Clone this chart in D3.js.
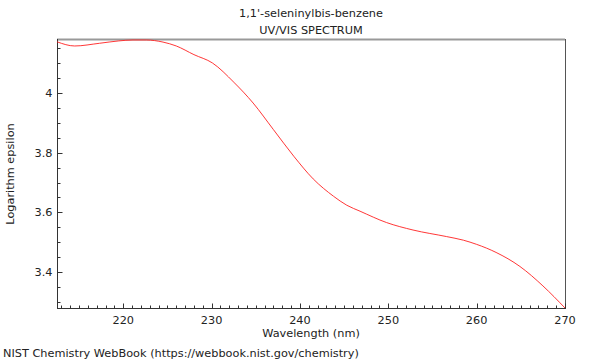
<!DOCTYPE html>
<html><head><meta charset="utf-8">
<script src="https://cdn.jsdelivr.net/npm/d3@7"></script>
<style>body{margin:0;background:#fff;} svg{display:block;} text{font-family:"DejaVu Sans",sans-serif;}</style>
</head><body><svg id="c" width="600" height="360"></svg>
<script>
const wavelength = [212.5,214.5,217.3,219.5,221.1,222.6,224.5,226,228,230.1,232.5,234.7,237.0,239.3,241.5,243.8,245.3,246.8,249.8,252.8,256.6,258.5,260,262.2,264.9,267.5,270];
const logEps =     [4.171,4.157,4.166,4.174,4.177,4.177,4.170,4.157,4.128,4.100,4.036,3.966,3.877,3.788,3.712,3.654,3.624,3.604,3.566,3.541,3.519,3.507,3.493,3.466,3.419,3.354,3.28];
const xTicks = [220,230,240,250,260,270];
const yTicks = [3.4,3.6,3.8,4];
const titleLines = ["1,1'-seleninylbis-benzene","UV/VIS SPECTRUM"];

const svg = d3.select("#c");
const L=57,R=565,T=40,B=308;
const FS=11.3;
const x = d3.scaleLinear().domain([212.5,270]).range([L,R]);
const y = d3.scaleLinear().domain([3.28,4.177]).range([B,T]);

// frame
svg.append("line").attr("x1",L).attr("x2",R).attr("y1",T-0.5).attr("y2",T-0.5).attr("stroke","#999").attr("stroke-width",2);
svg.append("line").attr("x1",R+0.5).attr("x2",R+0.5).attr("y1",T-1).attr("y2",B).attr("stroke","#555").attr("stroke-width",1);

// x axis
const gx = svg.append("g").attr("transform",`translate(0,${B+0.5})`);
gx.append("line").attr("x1",L).attr("x2",R+1).attr("stroke","#333");
const xMinor = d3.range(213,271,1);
gx.selectAll(".mx").data(xMinor).join("line").attr("x1",d=>Math.round(x(d))+0.5).attr("x2",d=>Math.round(x(d))+0.5).attr("y1",0).attr("y2",d=>xTicks.includes(d)?-5:-3).attr("stroke","#333");
gx.selectAll(".tx").data(xTicks).join("text").attr("x",d=>x(d)).attr("y",15).attr("text-anchor","middle").attr("font-size",FS).attr("fill","#222").text(d=>d);

// y axis
const gy = svg.append("g").attr("transform",`translate(${L+0.5},0)`);
gy.append("line").attr("y1",T-1).attr("y2",B+1).attr("stroke","#333");
const yMinor = d3.range(0,18).map(i=>+(3.30+i*0.05).toFixed(2));
gy.selectAll(".my").data(yMinor).join("line").attr("y1",d=>Math.round(y(d))+0.5).attr("y2",d=>Math.round(y(d))+0.5).attr("x1",0).attr("x2",d=>yTicks.some(t=>Math.abs(t-d)<1e-6)?5:3).attr("stroke","#333");
gy.selectAll(".ty").data(yTicks).join("text").attr("x",-5).attr("y",d=>y(d)+4).attr("text-anchor","end").attr("font-size",FS).attr("fill","#222").text(d=>d);

// curve
const line = d3.line().x((d,i)=>x(wavelength[i])).y(d=>y(d)).curve(d3.curveMonotoneX);
svg.append("path").datum(logEps).attr("d",line).attr("fill","none").attr("stroke","#ff2020").attr("stroke-width",0.9);

// titles
svg.selectAll(".tt").data(titleLines).join("text").attr("x",311).attr("y",(d,i)=>17+i*17).attr("text-anchor","middle").attr("font-size",FS).attr("fill","#222").text(d=>d);
svg.append("text").attr("x",311).attr("y",337).attr("text-anchor","middle").attr("font-size",FS).attr("fill","#222").text("Wavelength (nm)");
svg.append("text").attr("transform","translate(14,174) rotate(-90)").attr("text-anchor","middle").attr("font-size",FS).attr("fill","#222").text("Logarithm epsilon");
svg.append("text").attr("x",3).attr("y",357).attr("font-size",FS).attr("fill","#222").text("NIST Chemistry WebBook (https://webbook.nist.gov/chemistry)");
</script></body></html>
